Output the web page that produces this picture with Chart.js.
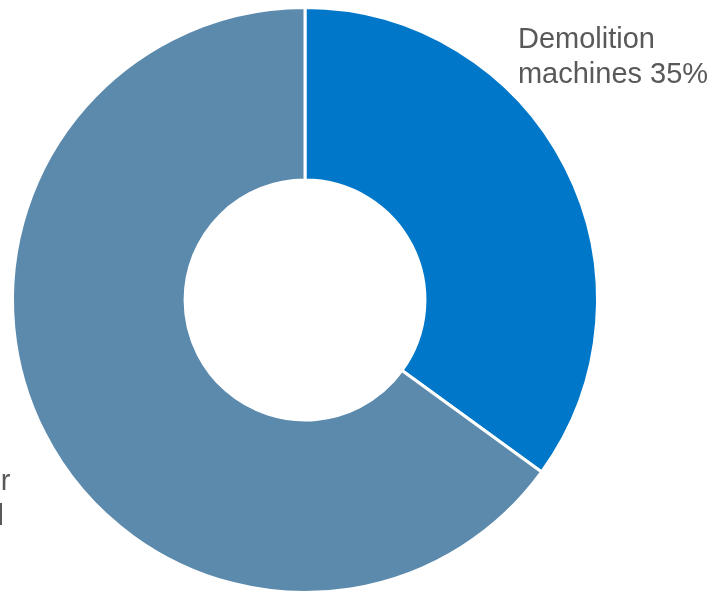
<!DOCTYPE html>
<html>
<head>
<meta charset="utf-8">
<script src="https://cdn.jsdelivr.net/npm/chart.js@4/dist/chart.umd.min.js"></script>
<style>
  html, body { margin: 0; padding: 0; background: #ffffff; overflow: hidden; }
  #wrap { position: relative; width: 713px; height: 600px; }
</style>
</head>
<body>
<div id="wrap"><canvas id="chart"></canvas></div>
<script>
// Segment names, shares (%) and the text lines printed beside each segment
const categories = ["Demolition machines", "Other"];
const shares = [35, 65];
const labelLines = [
  ["Demolition", "machines 35%"],
  ["Other", "Steel", "65%"]
];

const sliceColors = ["#0077C8", "#5B8AAD"];

// Label anchor per segment, in units of the outer radius from the centre
const labelAnchors = [
  { dx: 0.728, dy: -0.861 },
  { dx: -1.255, dy: 0.648 }
];

const outsideLabels = {
  id: "outsideLabels",
  afterDatasetsDraw(chart) {
    const { ctx } = chart;
    const meta = chart.getDatasetMeta(0);
    ctx.save();
    ctx.font = "29px 'Liberation Sans', Arial, sans-serif";
    ctx.fillStyle = "#595959";
    ctx.textAlign = "left";
    ctx.textBaseline = "alphabetic";
    meta.data.forEach((arc, i) => {
      const R = arc.outerRadius;
      const x = arc.x + labelAnchors[i].dx * R;
      const y = arc.y + labelAnchors[i].dy * R;
      labelLines[i].forEach((line, k) => {
        ctx.fillText(line, x, y + k * 35);
      });
    });
    ctx.restore();
  }
};

new Chart(document.getElementById("chart"), {
  type: "doughnut",
  data: {
    labels: categories,
    datasets: [{
      data: shares,
      backgroundColor: sliceColors,
      borderColor: "#ffffff",
      borderWidth: 3,
      hoverOffset: 0
    }]
  },
  options: {
    responsive: true,
    maintainAspectRatio: false,
    animation: false,
    cutout: "41%",
    layout: { padding: { top: 6, bottom: 6, left: 11, right: 114 } },
    plugins: {
      legend: { display: false },
      tooltip: { enabled: false }
    }
  },
  plugins: [outsideLabels]
});
</script>
</body>
</html>
